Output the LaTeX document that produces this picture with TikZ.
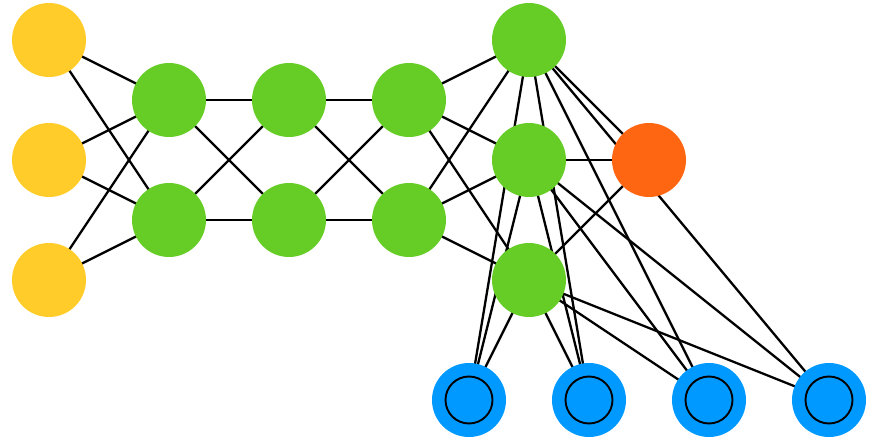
\documentclass[tikz,border=0pt]{standalone}
\usetikzlibrary{backgrounds}
\definecolor{cyel}{RGB}{255,204,41}
\definecolor{cgrn}{RGB}{102,204,38}
\definecolor{corg}{RGB}{255,102,17}
\definecolor{cblu}{RGB}{0,153,255}
\tikzset{
  neuron/.style={circle,minimum size=74pt,inner sep=0pt,draw=none},
  inp/.style={neuron,fill=cyel},
  hid/.style={neuron,fill=cgrn},
  outn/.style={neuron,fill=corg},
  mem/.style={neuron,fill=cblu,path picture={\draw[line width=1.9pt] (path picture bounding box.center) circle (23.5pt);}},
  link/.style={line width=2.3pt,black}
}
\begin{document}
\begin{tikzpicture}[x=1pt,y=-1pt]
\useasboundingbox (0,0) rectangle (875,446);
% neurons
\node[inp] (Y1) at (49,40) {};
\node[inp] (Y2) at (49,160) {};
\node[inp] (Y3) at (49,280) {};
\node[hid] (A1) at (169,100) {};
\node[hid] (A2) at (169,220) {};
\node[hid] (B1) at (289,100) {};
\node[hid] (B2) at (289,220) {};
\node[hid] (C1) at (409,100) {};
\node[hid] (C2) at (409,220) {};
\node[hid] (D1) at (529,40) {};
\node[hid] (D2) at (529,160) {};
\node[hid] (D3) at (529,280) {};
\node[outn] (O1) at (649,160) {};
\node[mem] (M1) at (469,400) {};
\node[mem] (M2) at (589,400) {};
\node[mem] (M3) at (709,400) {};
\node[mem] (M4) at (829,400) {};
% connectors, drawn under the neurons
\begin{pgfonlayer}{background}
\foreach \s in {Y1,Y2,Y3}{\foreach \t in {A1,A2}{\draw[link] (\s.center) -- (\t.center);}}
\foreach \s in {A1,A2}{\foreach \t in {B1,B2}{\draw[link] (\s.center) -- (\t.center);}}
\foreach \s in {B1,B2}{\foreach \t in {C1,C2}{\draw[link] (\s.center) -- (\t.center);}}
\foreach \s in {C1,C2}{\foreach \t in {D1,D2,D3}{\draw[link] (\s.center) -- (\t.center);}}
\foreach \s in {D1,D2,D3}{\draw[link] (\s.center) -- (O1.center);}
\foreach \s in {D1,D2,D3}{\foreach \t in {M1,M2,M3,M4}{\draw[link] (\s.center) -- (\t.center);}}
\end{pgfonlayer}
\end{tikzpicture}
\end{document}
